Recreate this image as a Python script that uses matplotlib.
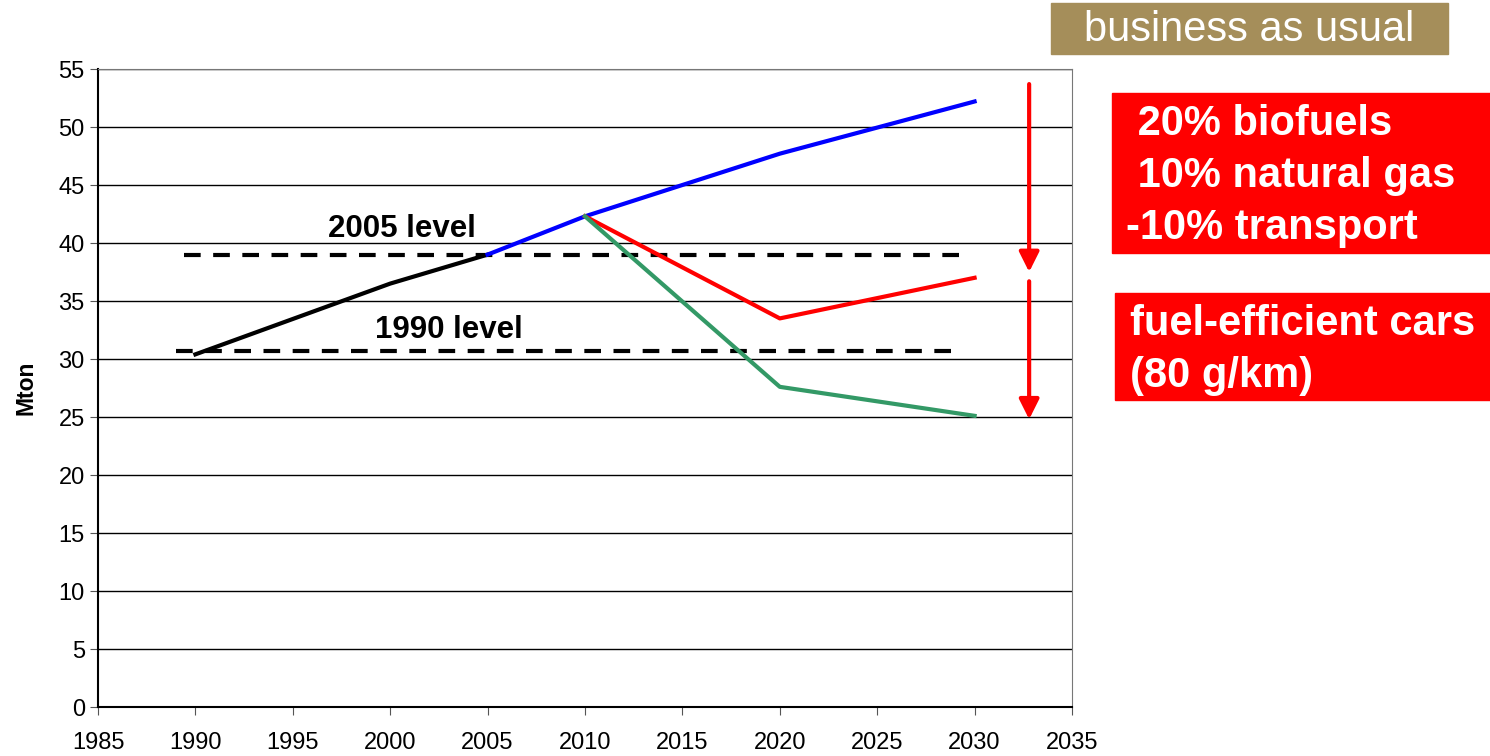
import numpy as np
import matplotlib.pyplot as plt

plt.rcParams['font.family'] = ['Liberation Sans', 'DejaVu Sans']

# historical emissions (Mton)
hist_years = [1990, 2000, 2005]
hist_vals = [30.4, 36.5, 39.0]

# business as usual
bau_years = [2005, 2010, 2020, 2030]
bau_vals = [39.0, 42.3, 47.7, 52.2]

# biofuels / natural gas / less transport
bio_years = [2010, 2020, 2030]
bio_vals = [42.3, 33.5, 37.0]

# plus fuel-efficient cars
cars_years = [2010, 2020, 2030]
cars_vals = [42.3, 27.6, 25.1]

level_2005 = 39.0
level_1990 = 30.7

fig = plt.figure(figsize=(14.9, 7.56), dpi=100)
ax = fig.add_axes([98/1490, 1-707/756, (1072-98)/1490, (707-69)/756])

for y in np.arange(5, 56, 5):
    ax.axhline(y, color='black', lw=1, zorder=1)

ax.plot([1989.4, 2029.8], [level_2005, level_2005], 'k--', lw=3, dashes=(4, 3), zorder=2)
ax.plot([1989.0, 2029.4], [level_1990, level_1990], 'k--', lw=3, dashes=(4, 3), zorder=2)
ax.text(2000.6, 39.9, "2005 level", fontsize=22.5, fontweight='bold', ha='center', va='bottom')
ax.text(2003.0, 31.2, "1990 level", fontsize=22.5, fontweight='bold', ha='center', va='bottom')

ax.plot(hist_years, hist_vals, color='black', lw=3, zorder=3)
ax.plot(bau_years, bau_vals, color='#0000ff', lw=3, zorder=3)
ax.plot(bio_years, bio_vals, color='#ff0000', lw=3, zorder=3)
ax.plot(cars_years, cars_vals, color='#339966', lw=3, zorder=3)

# reduction arrows
arrow = dict(arrowstyle='-|>,head_width=0.6,head_length=1.2', color='#ff0000', lw=3, shrinkA=0, shrinkB=0)
ax.annotate("", xy=(2032.8, 37.5), xytext=(2032.8, 53.7), arrowprops=arrow)
ax.annotate("", xy=(2032.8, 24.8), xytext=(2032.8, 36.7), arrowprops=arrow)

ax.set_xlim(1985, 2035)
ax.set_ylim(0, 55)
ax.set_xticks(np.arange(1985, 2036, 5))
ax.set_yticks(np.arange(0, 56, 5))
ax.tick_params(labelsize=17, direction='out', length=6, color='#555555')
ax.tick_params(axis='x', pad=12)
ax.set_ylabel("Mton", fontsize=16.5, fontweight='bold')
ax.yaxis.set_label_coords(-60/974, 0.5)
for s in ['left', 'bottom']:
    ax.spines[s].set_color('black')
    ax.spines[s].set_linewidth(1.5)
for s in ['top', 'right']:
    ax.spines[s].set_color('#777777')

# boxes outside the plot
fig.patches.append(plt.Rectangle((1051/1490, 1-54/756), 397/1490, 51/756,
                                 transform=fig.transFigure, color='#a58e5a', zorder=0))
fig.text(1249/1490, 1-30/756, "business as usual", fontsize=30, color='white', ha='center', va='center')

fig.patches.append(plt.Rectangle((1112/1490, 1-253/756), 378/1490, 160/756,
                                 transform=fig.transFigure, color='#ff0000', zorder=0))
fig.text(1126/1490, 1-176/756, " 20% biofuels\n 10% natural gas\n-10% transport", fontsize=30,
         fontweight='bold', color='white', ha='left', va='center', linespacing=1.4)

fig.patches.append(plt.Rectangle((1115/1490, 1-400/756), 375/1490, 107/756,
                                 transform=fig.transFigure, color='#ff0000', zorder=0))
fig.text(1130/1490, 1-350/756, "fuel-efficient cars\n(80 g/km)", fontsize=30,
         fontweight='bold', color='white', ha='left', va='center', linespacing=1.38)

fig.savefig("out.png", dpi=100)
